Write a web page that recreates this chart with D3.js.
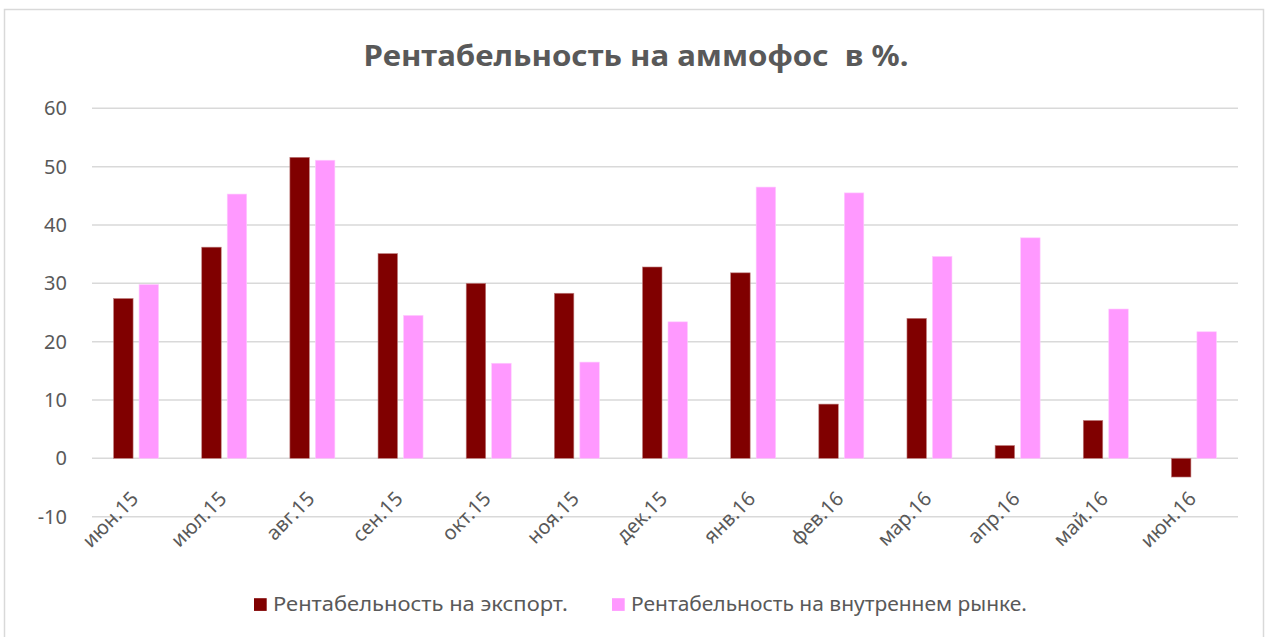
<!DOCTYPE html>
<html>
<head>
<meta charset="utf-8">
<script src="https://cdn.jsdelivr.net/npm/d3@7"></script>
<style>
  html, body { margin: 0; padding: 0; background: #fff; }
  svg { display: block; font-family: "Noto Sans", "Open Sans", sans-serif; }
</style>
</head>
<body>
<svg id="chart" width="1269" height="637"></svg>
<script>
// data
const categories = ["июн.15", "июл.15", "авг.15", "сен.15", "окт.15", "ноя.15", "дек.15",
                    "янв.16", "фев.16", "мар.16", "апр.16", "май.16", "июн.16"];
const exportValues = [27.4, 36.2, 51.6, 35.1, 30.0, 28.3, 32.8, 31.8, 9.3, 24.0, 2.2, 6.5, -3.2];
const domesticValues = [29.8, 45.3, 51.1, 24.5, 16.3, 16.5, 23.4, 46.5, 45.5, 34.6, 37.8, 25.6, 21.7];
const seriesNames = ["Рентабельность на экспорт.", "Рентабельность на внутреннем рынке."];
const yTicks = [-10, 0, 10, 20, 30, 40, 50, 60];

const colors = ["#800000", "#ff99ff"];
const textColor = "#595959";
const gridColor = "#d9d9d9";

const svg = d3.select("#chart");

// outer chart frame
svg.append("rect")
  .attr("x", 4.5).attr("y", 9.5)
  .attr("width", 1259).attr("height", 640)
  .attr("fill", "#fff").attr("stroke", gridColor).attr("stroke-width", 1.5);

const plot = {left: 92, right: 1238};

const x0 = d3.scaleBand().domain(categories).range([plot.left, plot.right]).padding(0);
const groupW = 45;
const x1 = d3.scaleBand().domain([0, 1])
  .range([x0.bandwidth() / 2 - groupW / 2, x0.bandwidth() / 2 + groupW / 2])
  .paddingInner(0.235).paddingOuter(0);
const y = d3.scaleLinear().domain([-10, 60]).range([516.7, 108.3]);

// gridlines
svg.append("g").selectAll("line")
  .data(yTicks)
  .join("line")
  .attr("x1", plot.left).attr("x2", plot.right)
  .attr("y1", d => y(d)).attr("y2", d => y(d))
  .attr("stroke", gridColor).attr("stroke-width", 1.5);

// y tick labels
svg.append("g").selectAll("text")
  .data(yTicks)
  .join("text")
  .attr("x", 67).attr("y", d => y(d))
  .attr("dy", "0.35em")
  .attr("text-anchor", "end")
  .attr("font-size", 20)
  .attr("fill", textColor)
  .text(d => d);

// bars
const rows = categories.map((c, i) => ({cat: c, vals: [exportValues[i], domesticValues[i]]}));
const groups = svg.append("g").selectAll("g")
  .data(rows)
  .join("g")
  .attr("transform", d => `translate(${x0(d.cat)},0)`);

groups.selectAll("rect")
  .data(d => d.vals.map((v, s) => ({v, s})))
  .join("rect")
  .attr("x", d => x1(d.s))
  .attr("width", x1.bandwidth())
  .attr("y", d => y(Math.max(0, d.v)))
  .attr("height", d => Math.abs(y(d.v) - y(0)))
  .attr("fill", d => colors[d.s])
  .attr("stroke", d => d.s === 0 ? "#c08080" : "#ffccff")
  .attr("stroke-width", 0.6);

// x labels (rotated 45°, anchored at their end)
svg.append("g").selectAll("text")
  .data(categories)
  .join("text")
  .attr("transform", d => `translate(${x0(d) + x0.bandwidth() / 2 + 3.5},500) rotate(-45)`)
  .attr("text-anchor", "end")
  .attr("font-size", 20)
  .attr("fill", textColor)
  .text(d => d);

// title
svg.append("text")
  .attr("x", 636).attr("y", 66)
  .attr("text-anchor", "middle")
  .attr("font-size", 29)
  .attr("font-weight", 700)
  .attr("fill", textColor)
  .attr("textLength", 545)
  .attr("lengthAdjust", "spacingAndGlyphs")
  .style("white-space", "pre")
  .text("Рентабельность на аммофос  в %.");

// legend
const legendX = [254, 612];
const legendLen = [295, 396];
const lg = svg.append("g").selectAll("g")
  .data(seriesNames)
  .join("g")
  .attr("transform", (d, i) => `translate(${legendX[i]},604.5)`);
lg.append("rect")
  .attr("x", 0).attr("y", -6.3)
  .attr("width", 12.7).attr("height", 12.7)
  .attr("fill", (d, i) => colors[i]);
lg.append("text")
  .attr("x", 19).attr("y", 0)
  .attr("dy", "0.35em")
  .attr("font-size", 19)
  .attr("fill", textColor)
  .attr("textLength", (d, i) => legendLen[i])
  .attr("lengthAdjust", "spacingAndGlyphs")
  .text(d => d);
</script>
</body>
</html>
